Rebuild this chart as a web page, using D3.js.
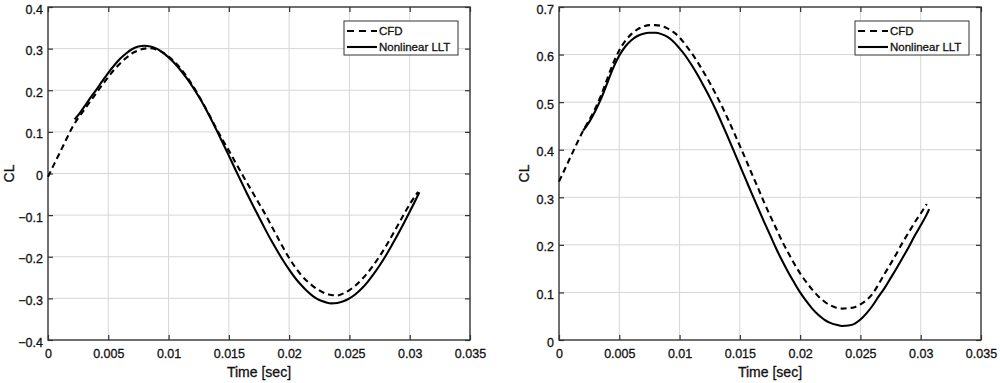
<!DOCTYPE html>
<html><head><meta charset="utf-8">
<script src="https://cdn.jsdelivr.net/npm/d3@7"></script>
<style>
body{margin:0;background:#fff}
svg{display:block}
text{font-family:"Liberation Sans",Arial,Helvetica,sans-serif;fill:#111;stroke:#111;stroke-width:0.3px}
</style>
</head><body>
<svg id="chart" width="1000" height="383"></svg>
<script>
// ---------- data ----------
const xTicks = [0, 0.005, 0.01, 0.015, 0.02, 0.025, 0.03, 0.035];
const xTickLabels = ["0", "0.005", "0.01", "0.015", "0.02", "0.025", "0.03", "0.035"];
const xLabel = "Time [sec]";
const yLabel = "CL";
const legendLabels = ["CFD", "Nonlinear LLT"];

const leftYTicks = [-0.4, -0.3, -0.2, -0.1, 0, 0.1, 0.2, 0.3, 0.4];
const leftYTickLabels = ["\u22120.4", "\u22120.3", "\u22120.2", "\u22120.1", "0", "0.1", "0.2", "0.3", "0.4"];
const rightYTicks = [0, 0.1, 0.2, 0.3, 0.4, 0.5, 0.6, 0.7];
const rightYTickLabels = ["0", "0.1", "0.2", "0.3", "0.4", "0.5", "0.6", "0.7"];

// Left panel – CFD (dashed)
const leftCfdTime = [0, 0.0005, 0.001, 0.0015, 0.002, 0.0025, 0.003, 0.0035, 0.004, 0.0045, 0.005, 0.0055, 0.006, 0.0065, 0.007, 0.0075, 0.008, 0.0085, 0.009, 0.0095, 0.010, 0.0105, 0.011, 0.0115, 0.012, 0.0125, 0.013, 0.0135, 0.014, 0.0145, 0.015, 0.0155, 0.016, 0.0165, 0.017, 0.0175, 0.018, 0.0185, 0.019, 0.0195, 0.020, 0.0205, 0.021, 0.0215, 0.022, 0.0225, 0.023, 0.0235, 0.024, 0.0245, 0.025, 0.0255, 0.026, 0.0265, 0.027, 0.0275, 0.028, 0.0285, 0.029, 0.0295, 0.030, 0.0305, 0.0307];
const leftCfdCL = [-0.008, 0.022, 0.051, 0.081, 0.110, 0.133, 0.153, 0.173, 0.193, 0.213, 0.232, 0.250, 0.265, 0.278, 0.289, 0.296, 0.300, 0.301, 0.298, 0.291, 0.281, 0.268, 0.252, 0.233, 0.211, 0.187, 0.161, 0.134, 0.106, 0.080, 0.055, 0.029, 0.003, -0.022, -0.047, -0.072, -0.097, -0.124, -0.151, -0.178, -0.203, -0.225, -0.244, -0.259, -0.271, -0.281, -0.288, -0.292, -0.293, -0.288, -0.280, -0.269, -0.255, -0.239, -0.220, -0.199, -0.176, -0.151, -0.125, -0.099, -0.074, -0.052, -0.044];

// Left panel – Nonlinear LLT (solid)
const leftLltTime = [0.0022, 0.0025, 0.003, 0.0035, 0.004, 0.0045, 0.005, 0.0055, 0.006, 0.0065, 0.007, 0.0075, 0.008, 0.0085, 0.009, 0.0095, 0.010, 0.0105, 0.011, 0.0115, 0.012, 0.0125, 0.013, 0.0135, 0.014, 0.0145, 0.015, 0.0155, 0.016, 0.0165, 0.017, 0.0175, 0.018, 0.0185, 0.019, 0.0195, 0.020, 0.0205, 0.021, 0.0215, 0.022, 0.0225, 0.023, 0.0235, 0.024, 0.0245, 0.025, 0.0255, 0.026, 0.0265, 0.027, 0.0275, 0.028, 0.0285, 0.029, 0.0295, 0.030, 0.0305, 0.0308];
const leftLltCL = [0.130, 0.140, 0.160, 0.181, 0.201, 0.222, 0.242, 0.260, 0.276, 0.289, 0.299, 0.305, 0.307, 0.305, 0.300, 0.291, 0.279, 0.265, 0.248, 0.229, 0.208, 0.185, 0.160, 0.132, 0.103, 0.073, 0.043, 0.012, -0.018, -0.048, -0.077, -0.105, -0.133, -0.160, -0.185, -0.209, -0.231, -0.251, -0.268, -0.283, -0.295, -0.304, -0.309, -0.312, -0.311, -0.307, -0.300, -0.290, -0.277, -0.261, -0.242, -0.221, -0.198, -0.173, -0.147, -0.120, -0.092, -0.063, -0.045];

// Right panel – CFD (dashed)
const rightCfdTime = [0, 0.0005, 0.001, 0.0015, 0.002, 0.0025, 0.003, 0.0035, 0.004, 0.0045, 0.005, 0.0055, 0.006, 0.0065, 0.007, 0.0075, 0.008, 0.0085, 0.009, 0.0095, 0.010, 0.0105, 0.011, 0.0115, 0.012, 0.0125, 0.013, 0.0135, 0.014, 0.0145, 0.015, 0.0155, 0.016, 0.0165, 0.017, 0.0175, 0.018, 0.0185, 0.019, 0.0195, 0.020, 0.0205, 0.021, 0.0215, 0.022, 0.0225, 0.023, 0.0235, 0.024, 0.0245, 0.025, 0.0255, 0.026, 0.0265, 0.027, 0.0275, 0.028, 0.0285, 0.029, 0.0295, 0.030, 0.0305];
const rightCfdCL = [0.333, 0.360, 0.387, 0.414, 0.440, 0.462, 0.486, 0.515, 0.549, 0.582, 0.609, 0.629, 0.643, 0.653, 0.659, 0.662, 0.662, 0.660, 0.655, 0.647, 0.636, 0.620, 0.603, 0.584, 0.563, 0.541, 0.517, 0.492, 0.465, 0.437, 0.408, 0.379, 0.349, 0.320, 0.290, 0.262, 0.235, 0.208, 0.184, 0.161, 0.140, 0.122, 0.106, 0.092, 0.081, 0.073, 0.068, 0.066, 0.067, 0.069, 0.075, 0.084, 0.097, 0.117, 0.139, 0.160, 0.182, 0.205, 0.226, 0.247, 0.266, 0.286];

// Right panel – Nonlinear LLT (solid)
const rightLltTime = [0.002, 0.0025, 0.003, 0.0035, 0.004, 0.0045, 0.005, 0.0055, 0.006, 0.0065, 0.007, 0.0075, 0.008, 0.0085, 0.009, 0.0095, 0.010, 0.0105, 0.011, 0.0115, 0.012, 0.0125, 0.013, 0.0135, 0.014, 0.0145, 0.015, 0.0155, 0.016, 0.0165, 0.017, 0.0175, 0.018, 0.0185, 0.019, 0.0195, 0.020, 0.0205, 0.021, 0.0215, 0.022, 0.0225, 0.023, 0.0235, 0.024, 0.0245, 0.025, 0.0255, 0.026, 0.0265, 0.027, 0.0275, 0.028, 0.0285, 0.029, 0.0295, 0.030, 0.0305, 0.0307];
const rightLltCL = [0.440, 0.458, 0.481, 0.508, 0.540, 0.572, 0.598, 0.617, 0.630, 0.639, 0.644, 0.646, 0.646, 0.643, 0.637, 0.627, 0.613, 0.597, 0.578, 0.557, 0.534, 0.510, 0.484, 0.456, 0.427, 0.397, 0.367, 0.337, 0.307, 0.278, 0.249, 0.221, 0.193, 0.167, 0.143, 0.121, 0.100, 0.082, 0.066, 0.053, 0.043, 0.036, 0.032, 0.0295, 0.0305, 0.034, 0.043, 0.056, 0.072, 0.091, 0.109, 0.130, 0.151, 0.173, 0.195, 0.219, 0.241, 0.264, 0.275];

// ---------- drawing ----------
const svg = d3.select("#chart");

const panels = [
  {left: 48, right: 470, top: 7, bottom: 340, yDomain: [-0.4, 0.4], yTicks: leftYTicks, yTickLabels: leftYTickLabels,
   cfdT: leftCfdTime, cfdV: leftCfdCL, lltT: leftLltTime, lltV: leftLltCL, yLabelX: 14},
  {left: 559, right: 981, top: 7, bottom: 340, yDomain: [0, 0.7], yTicks: rightYTicks, yTickLabels: rightYTickLabels,
   cfdT: rightCfdTime, cfdV: rightCfdCL, lltT: rightLltTime, lltV: rightLltCL, yLabelX: 529}
];

panels.forEach(p => {
  const x = d3.scaleLinear().domain([0, 0.035]).range([p.left, p.right]);
  const y = d3.scaleLinear().domain(p.yDomain).range([p.bottom, p.top]);
  const g = svg.append("g");

  // grid
  g.append("g").selectAll("line").data(xTicks.slice(1, -1)).join("line")
    .attr("x1", d => x(d)).attr("x2", d => x(d)).attr("y1", p.top).attr("y2", p.bottom)
    .attr("stroke", "#d6d6d6").attr("stroke-width", 1);
  g.append("g").selectAll("line").data(p.yTicks.slice(1, -1)).join("line")
    .attr("y1", d => y(d)).attr("y2", d => y(d)).attr("x1", p.left).attr("x2", p.right)
    .attr("stroke", "#d6d6d6").attr("stroke-width", 1);

  // axes with inward ticks
  const styleAxis = sel => {
    sel.select(".domain").remove();
    sel.selectAll(".tick line").attr("stroke", "#333").attr("stroke-width", 1.2);
    sel.selectAll("text").style("font-size", "12.5px").attr("fill", "#111");
  };
  g.append("g").attr("transform", `translate(0,${p.bottom})`)
    .call(d3.axisBottom(x).tickValues(xTicks).tickFormat((d, i) => xTickLabels[i]).tickSizeInner(-5).tickSizeOuter(0).tickPadding(9))
    .call(styleAxis);
  g.append("g").attr("transform", `translate(0,${p.top})`)
    .call(d3.axisTop(x).tickValues(xTicks).tickFormat("").tickSizeInner(-5).tickSizeOuter(0))
    .call(styleAxis);
  g.append("g").attr("transform", `translate(${p.left},0)`)
    .call(d3.axisLeft(y).tickValues(p.yTicks).tickFormat((d, i) => p.yTickLabels[i]).tickSizeInner(-5).tickSizeOuter(0).tickPadding(5))
    .call(styleAxis)
    .selectAll("text").attr("dy", "0.48em");
  g.append("g").attr("transform", `translate(${p.right},0)`)
    .call(d3.axisRight(y).tickValues(p.yTicks).tickFormat("").tickSizeInner(-5).tickSizeOuter(0))
    .call(styleAxis);

  // box
  g.append("rect").attr("x", p.left).attr("y", p.top).attr("width", p.right - p.left).attr("height", p.bottom - p.top)
    .attr("fill", "none").attr("stroke", "#333").attr("stroke-width", 1.4);

  // lines
  const line = d3.line().x(d => x(d[0])).y(d => y(d[1])).curve(d3.curveMonotoneX);
  g.append("path").datum(p.cfdT.map((t, i) => [t, p.cfdV[i]]))
    .attr("d", line).attr("fill", "none").attr("stroke", "#000").attr("stroke-width", 2.1)
    .attr("stroke-dasharray", "6,4");
  g.append("path").datum(p.lltT.map((t, i) => [t, p.lltV[i]]))
    .attr("d", line).attr("fill", "none").attr("stroke", "#000").attr("stroke-width", 2.1);

  // axis labels
  g.append("text").attr("x", (p.left + p.right) / 2).attr("y", 377).attr("text-anchor", "middle")
    .style("font-size", "14px").text(xLabel);
  g.append("text").attr("transform", `translate(${p.yLabelX},${(p.top + p.bottom) / 2}) rotate(-90)`)
    .attr("text-anchor", "middle").style("font-size", "14px").text(yLabel);

  // legend
  const lx = p.right - 126, ly = p.top + 14, lw = 114, lh = 34;
  const lg = g.append("g");
  lg.append("rect").attr("x", lx).attr("y", ly).attr("width", lw).attr("height", lh)
    .attr("fill", "#fff").attr("stroke", "#333").attr("stroke-width", 1);
  legendLabels.forEach((lab, i) => {
    const cy = ly + 10 + i * 16;
    lg.append("line").attr("x1", lx + 3).attr("x2", lx + 33).attr("y1", cy).attr("y2", cy)
      .attr("stroke", "#000").attr("stroke-width", 2.1)
      .attr("stroke-dasharray", i === 0 ? "7,5" : null);
    lg.append("text").attr("x", lx + 35).attr("y", cy + 4).style("font-size", "11.5px").text(lab);
  });
});
</script>
</body></html>
